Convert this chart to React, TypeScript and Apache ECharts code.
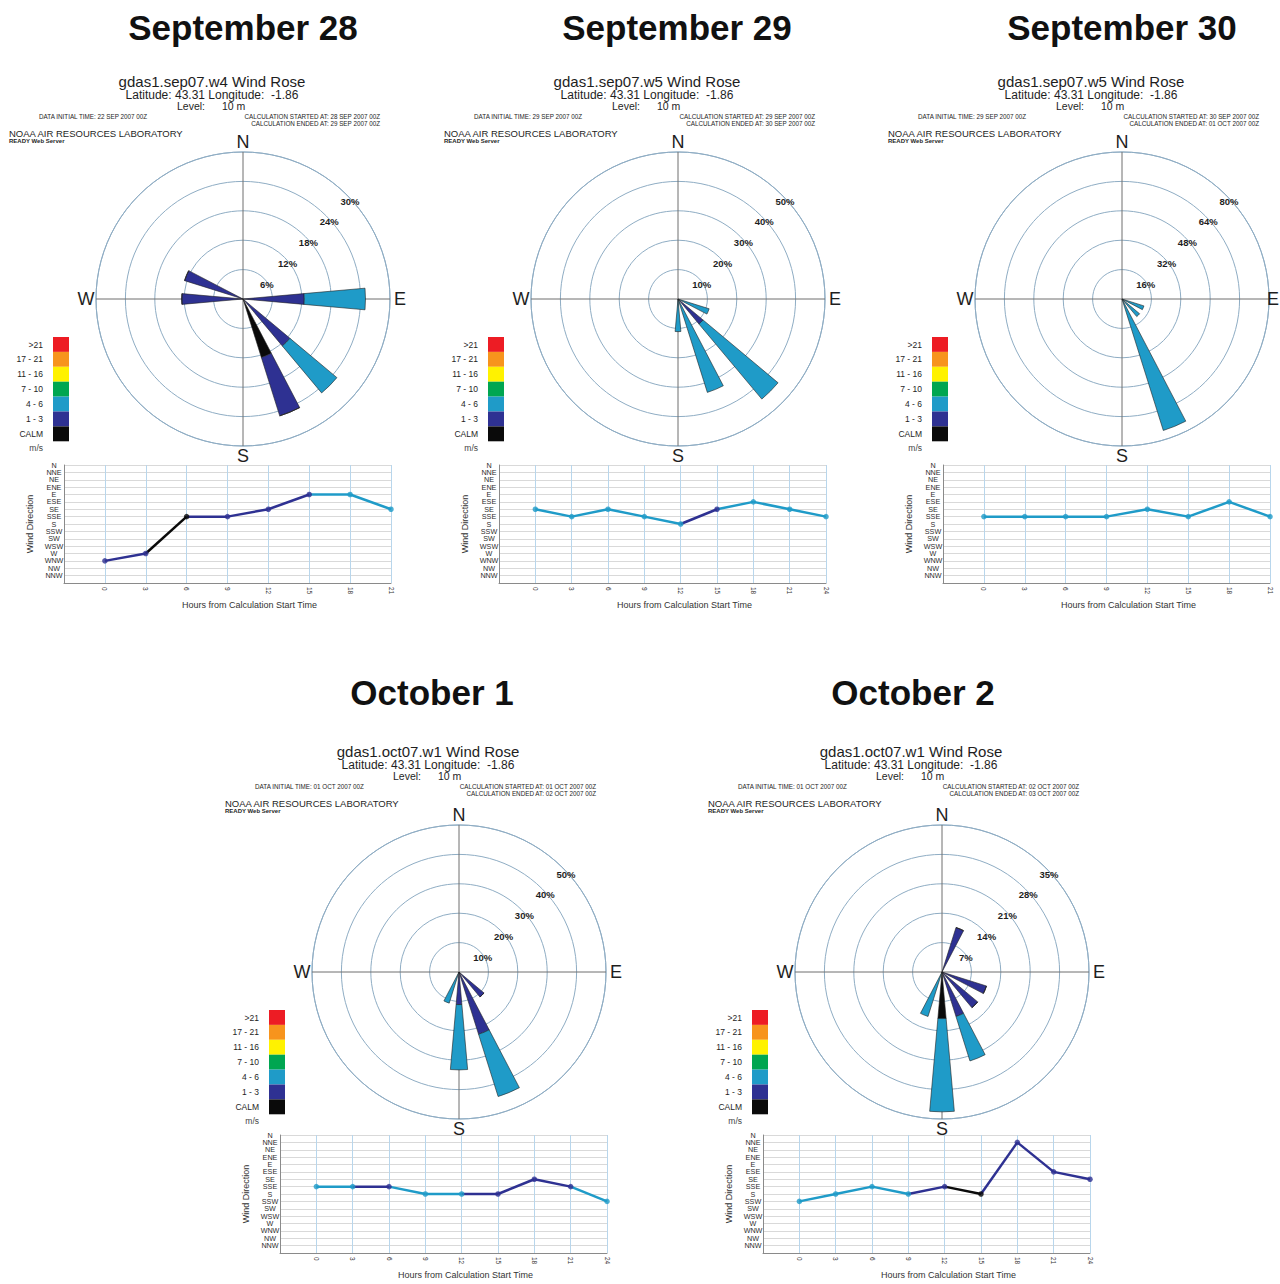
import React, { useEffect, useRef } from 'react';
import * as echarts from 'echarts';

// ---------- data ----------
const DIRS = ['N', 'NNE', 'NE', 'ENE', 'E', 'ESE', 'SE', 'SSE', 'S', 'SSW', 'SW', 'WSW', 'W', 'WNW', 'NW', 'NNW'];
const SPEED_LABELS = ['>21', '17 - 21', '11 - 16', '7 - 10', '4 - 6', '1 - 3', 'CALM'];
const SPEED_COLORS = ['#ed1c24', '#f7941d', '#fff200', '#00a651', '#1f9bc8', '#2e3192', '#0a0a0a'];
// speed class codes used below: 0 = CALM, 1 = 1-3 m/s, 2 = 4-6 m/s
const CLASS_COLORS = ['#0a0a0a', '#2e3192', '#1f9bc8'];

const TITLES = ['September 28', 'September 29', 'September 30', 'October 1', 'October 2'];
const DATASETS = ['gdas1.sep07.w4', 'gdas1.sep07.w5', 'gdas1.sep07.w5', 'gdas1.oct07.w1', 'gdas1.oct07.w1'];
const INITIAL = ['22 SEP 2007 00Z', '29 SEP 2007 00Z', '29 SEP 2007 00Z', '01 OCT 2007 00Z', '01 OCT 2007 00Z'];
const STARTED = ['28 SEP 2007 00Z', '29 SEP 2007 00Z', '30 SEP 2007 00Z', '01 OCT 2007 00Z', '02 OCT 2007 00Z'];
const ENDED = ['29 SEP 2007 00Z', '30 SEP 2007 00Z', '01 OCT 2007 00Z', '02 OCT 2007 00Z', '03 OCT 2007 00Z'];
const RING_MAX = [30, 50, 80, 50, 35];

const HOURS_21 = [0, 3, 6, 9, 12, 15, 18, 21];
const HOURS_24 = [0, 3, 6, 9, 12, 15, 18, 21, 24];

const SEP28_DIR = ['WNW', 'W', 'SSE', 'SSE', 'SE', 'E', 'E', 'SE'];
const SEP28_SPD = [1, 1, 0, 1, 1, 1, 2, 2];
const SEP29_DIR = ['SE', 'SSE', 'SE', 'SSE', 'S', 'SE', 'ESE', 'SE', 'SSE'];
const SEP29_SPD = [2, 2, 2, 2, 2, 1, 2, 2, 2];
const SEP30_DIR = ['SSE', 'SSE', 'SSE', 'SSE', 'SE', 'SSE', 'ESE', 'SSE'];
const SEP30_SPD = [2, 2, 2, 2, 2, 2, 2, 2];
const OCT01_DIR = ['SSE', 'SSE', 'SSE', 'S', 'S', 'S', 'SE', 'SSE', 'SSW'];
const OCT01_SPD = [2, 2, 1, 2, 2, 1, 1, 1, 2];
const OCT02_DIR = ['SSW', 'S', 'SSE', 'S', 'SSE', 'S', 'NNE', 'ESE', 'SE'];
const OCT02_SPD = [2, 2, 2, 2, 1, 0, 1, 1, 1];

// wind rose percentages, order N, NNE, NE, ENE, E, ESE, SE, SSE, S, SSW, SW, WSW, W, WNW, NW, NNW
const SEP28_CALM = [0, 0, 0, 0, 0, 0, 0, 12.5, 0, 0, 0, 0, 0, 0, 0, 0];
const SEP28_LOW = [0, 0, 0, 0, 12.5, 0, 12.5, 12.5, 0, 0, 0, 0, 12.5, 12.5, 0, 0];
const SEP28_MID = [0, 0, 0, 0, 12.5, 0, 12.5, 0, 0, 0, 0, 0, 0, 0, 0, 0];
const SEP29_CALM = [0, 0, 0, 0, 0, 0, 0, 0, 0, 0, 0, 0, 0, 0, 0, 0];
const SEP29_LOW = [0, 0, 0, 0, 0, 0, 11.1, 0, 0, 0, 0, 0, 0, 0, 0, 0];
const SEP29_MID = [0, 0, 0, 0, 0, 11.1, 33.3, 33.3, 11.1, 0, 0, 0, 0, 0, 0, 0];
const SEP30_CALM = [0, 0, 0, 0, 0, 0, 0, 0, 0, 0, 0, 0, 0, 0, 0, 0];
const SEP30_LOW = [0, 0, 0, 0, 0, 0, 0, 0, 0, 0, 0, 0, 0, 0, 0, 0];
const SEP30_MID = [0, 0, 0, 0, 0, 12.5, 12.5, 75, 0, 0, 0, 0, 0, 0, 0, 0];
const OCT01_CALM = [0, 0, 0, 0, 0, 0, 0, 0, 0, 0, 0, 0, 0, 0, 0, 0];
const OCT01_LOW = [0, 0, 0, 0, 0, 0, 11.1, 22.2, 11.1, 0, 0, 0, 0, 0, 0, 0];
const OCT01_MID = [0, 0, 0, 0, 0, 0, 0, 22.2, 22.2, 11.1, 0, 0, 0, 0, 0, 0];
const OCT02_CALM = [0, 0, 0, 0, 0, 0, 0, 0, 11.1, 0, 0, 0, 0, 0, 0, 0];
const OCT02_LOW = [0, 11.1, 0, 0, 0, 11.1, 11.1, 11.1, 0, 0, 0, 0, 0, 0, 0, 0];
const OCT02_MID = [0, 0, 0, 0, 0, 0, 0, 11.1, 22.2, 11.1, 0, 0, 0, 0, 0, 0];

const PANEL_DATA = [
  { hours: HOURS_21, dir: SEP28_DIR, spd: SEP28_SPD, rose: [SEP28_CALM, SEP28_LOW, SEP28_MID] },
  { hours: HOURS_24, dir: SEP29_DIR, spd: SEP29_SPD, rose: [SEP29_CALM, SEP29_LOW, SEP29_MID] },
  { hours: HOURS_21, dir: SEP30_DIR, spd: SEP30_SPD, rose: [SEP30_CALM, SEP30_LOW, SEP30_MID] },
  { hours: HOURS_24, dir: OCT01_DIR, spd: OCT01_SPD, rose: [OCT01_CALM, OCT01_LOW, OCT01_MID] },
  { hours: HOURS_24, dir: OCT02_DIR, spd: OCT02_SPD, rose: [OCT02_CALM, OCT02_LOW, OCT02_MID] },
];

// ---------- layout ----------
const LAYOUT = [
  { cx: 243, cy: 299, by: 0, tx: 243, ty: 27 },
  { cx: 678, cy: 299, by: 0, tx: 677, ty: 27 },
  { cx: 1122, cy: 299, by: 0, tx: 1122, ty: 27 },
  { cx: 459, cy: 972, by: 670, tx: 432, ty: 692 },
  { cx: 942, cy: 972, by: 670, tx: 913, ty: 692 },
];
const R = 147;
const FONT = '"Liberation Sans", Arial, Helvetica, sans-serif';
const RING = '#8fadc4';
const TXT = '#1e1e1e';

function txt(x: number, y: number, text: string, size: number, opts: any = {}) {
  return {
    type: 'text',
    x,
    y,
    z: 10,
    silent: true,
    style: {
      text,
      fill: opts.fill || TXT,
      fontSize: size,
      fontFamily: FONT,
      fontWeight: opts.bold ? 'bold' : 'normal',
      align: opts.align || 'center',
      verticalAlign: 'middle',
    },
  };
}

function buildOption() {
  const polar: any[] = [];
  const angleAxis: any[] = [];
  const radiusAxis: any[] = [];
  const grid: any[] = [];
  const xAxis: any[] = [];
  const yAxis: any[] = [];
  const series: any[] = [];
  const graphic: any[] = [];

  PANEL_DATA.forEach((p, i) => {
    const { cx, cy, by, tx, ty } = LAYOUT[i];
    const max = RING_MAX[i];

    // ----- wind rose -----
    polar.push({ center: [cx, cy], radius: R });
    angleAxis.push({
      polarIndex: i,
      type: 'category',
      data: DIRS,
      startAngle: 90 + 11.25,
      clockwise: true,
      axisLine: { show: true, lineStyle: { color: RING, width: 1 } },
      axisTick: { show: false },
      axisLabel: { show: false },
      splitLine: { show: false },
    });
    radiusAxis.push({
      polarIndex: i,
      type: 'value',
      min: 0,
      max,
      interval: max / 5,
      axisLine: { show: false },
      axisTick: { show: false },
      axisLabel: { show: false },
      splitLine: { show: true, lineStyle: { color: RING, width: 1 } },
    });
    p.rose.forEach((vals, c) => {
      series.push({
        type: 'bar',
        coordinateSystem: 'polar',
        polarIndex: i,
        stack: 'rose' + i,
        data: vals,
        barWidth: '45%',
        itemStyle: { color: CLASS_COLORS[c], borderColor: '#222', borderWidth: 0.6 },
        silent: true,
        z: 3,
      });
    });
    // crosshair
    graphic.push({ type: 'line', z: 1, silent: true, shape: { x1: cx - R, y1: cy, x2: cx + R, y2: cy }, style: { stroke: '#6f6f6f', lineWidth: 1 } });
    graphic.push({ type: 'line', z: 1, silent: true, shape: { x1: cx, y1: cy - R, x2: cx, y2: cy + R }, style: { stroke: '#6f6f6f', lineWidth: 1 } });
    // compass labels
    graphic.push(txt(cx, cy - 157, 'N', 18));
    graphic.push(txt(cx, cy + 157, 'S', 18));
    graphic.push(txt(cx - 157, cy, 'W', 18));
    graphic.push(txt(Math.min(cx + 157, 1273), cy, 'E', 18));
    // ring labels (placed along the NE diagonal at each ring)
    const a = Math.PI / 4;
    for (let k = 1; k <= 5; k++) {
      const v = (max * k) / 5;
      const r = (R * v) / max;
      graphic.push(txt(cx + r * Math.cos(a) + 3, cy - r * Math.sin(a) + 6, v + '%', 9.5, { bold: true }));
    }
    // speed legend
    SPEED_LABELS.forEach((lab, j) => {
      const y = cy + 38 + j * 14.9;
      graphic.push({ type: 'rect', z: 5, silent: true, shape: { x: cx - 190, y, width: 16, height: 14.9 }, style: { fill: SPEED_COLORS[j] } });
      graphic.push(txt(cx - 200, y + 7.5, lab, 8.5, { align: 'right' }));
    });
    graphic.push(txt(cx - 200, cy + 149, 'm/s', 8.5, { align: 'right', fill: '#444' }));

    // ----- headers -----
    graphic.push(txt(tx, ty, TITLES[i], 35, { bold: true, fill: '#111' }));
    graphic.push(txt(cx - 31, by + 81, DATASETS[i] + ' Wind Rose', 15));
    graphic.push(txt(cx - 31, by + 95, 'Latitude: 43.31 Longitude:  -1.86', 12));
    graphic.push(txt(cx - 38, by + 106, 'Level:', 10.5, { align: 'right' }));
    graphic.push(txt(cx - 21, by + 106, '10 m', 10.5, { align: 'left' }));
    graphic.push(txt(cx - 204, by + 116, 'DATA INITIAL TIME: ' + INITIAL[i], 6.3, { align: 'left' }));
    graphic.push(txt(cx + 137, by + 116, 'CALCULATION STARTED AT: ' + STARTED[i], 6.3, { align: 'right' }));
    graphic.push(txt(cx + 137, by + 123, 'CALCULATION ENDED AT: ' + ENDED[i], 6.3, { align: 'right' }));
    graphic.push(txt(cx - 234, by + 133, 'NOAA AIR RESOURCES LABORATORY', 9.5, { align: 'left' }));
    graphic.push(txt(cx - 234, by + 141, 'READY Web Server', 6, { align: 'left', bold: true }));

    // ----- direction time series -----
    const hMax = p.hours[p.hours.length - 1];
    grid.push({ left: cx - 179, top: by + 465, width: 327, height: 118 });
    xAxis.push({
      gridIndex: i,
      type: 'value',
      min: -3,
      max: hMax,
      interval: 3,
      axisLine: { onZero: false, lineStyle: { color: '#8a8a8a' } },
      axisTick: { show: false },
      axisLabel: {
        rotate: -90,
        fontSize: 6.5,
        color: '#333',
        margin: 4,
        formatter: (v: number) => (v < 0 ? '' : String(v)),
      },
      splitLine: { show: true, lineStyle: { color: '#b8d6ec', width: 1 } },
      name: 'Hours from Calculation Start Time',
      nameLocation: 'middle',
      nameGap: 17,
      nameTextStyle: { fontSize: 9, color: '#333', fontFamily: FONT, padding: [0, 0, 0, 44] },
    });
    yAxis.push({
      gridIndex: i,
      type: 'value',
      min: 0,
      max: 16,
      interval: 1,
      inverse: true,
      axisLine: { show: true, onZero: false, lineStyle: { color: '#8a8a8a' } },
      axisTick: { show: false },
      axisLabel: {
        fontSize: 7.2,
        color: '#2a2a2a',
        align: 'center',
        margin: 10,
        formatter: (v: number) => (DIRS[v] !== undefined ? DIRS[v] : ''),
      },
      splitLine: { show: true, lineStyle: { color: '#d9d9d9', width: 1 } },
      name: 'Wind Direction',
      nameLocation: 'middle',
      nameGap: 30,
      nameRotate: 90,
      nameTextStyle: { fontSize: 9, color: '#333', fontFamily: FONT },
    });
    for (let k = 1; k < p.hours.length; k++) {
      series.push({
        type: 'line',
        xAxisIndex: i,
        yAxisIndex: i,
        data: [
          [p.hours[k - 1], DIRS.indexOf(p.dir[k - 1])],
          [p.hours[k], DIRS.indexOf(p.dir[k])],
        ],
        showSymbol: false,
        lineStyle: { color: CLASS_COLORS[p.spd[k]], width: 2.5 },
        silent: true,
        z: 3,
      });
    }
    series.push({
      type: 'scatter',
      xAxisIndex: i,
      yAxisIndex: i,
      symbolSize: 5.5,
      silent: true,
      z: 4,
      data: p.hours.map((h, k) => ({
        value: [h, DIRS.indexOf(p.dir[k])],
        itemStyle: { color: CLASS_COLORS[p.spd[k]] },
      })),
    });
  });

  return {
    animation: false,
    backgroundColor: '#ffffff',
    textStyle: { fontFamily: FONT },
    polar,
    angleAxis,
    radiusAxis,
    grid,
    xAxis,
    yAxis,
    series,
    graphic,
  };
}

export default function App() {
  const ref = useRef<HTMLDivElement>(null);
  useEffect(() => {
    document.body.style.margin = '0';
    const chart = echarts.init(ref.current as HTMLDivElement, null, { renderer: 'svg' });
    chart.setOption(buildOption() as any);
    return () => chart.dispose();
  }, []);
  return <div ref={ref} style={{ width: 1280, height: 1284, background: '#fff' }} />;
}
